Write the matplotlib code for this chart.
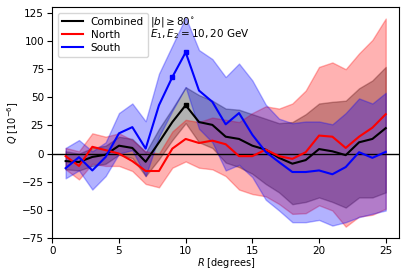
import numpy as np
import matplotlib
matplotlib.use("Agg")
import matplotlib.pyplot as plt

R = list(range(1, 26))

comb = [-6.7, -7.5, -3, -1, 7, 5, -7.3, 10, 28, 43, 28, 25.5, 15, 13, 7, 3.5, -3.8, -9, -5.8, 4, 2, -1.4, 10, 13, 22.6]
comb_hi = [2, 0, 5, 7, 15, 13, 1, 22, 40, 59, 52, 47, 40, 39, 35, 31, 27, 28, 35, 44.5, 46, 47, 58, 65, 77]
comb_lo = [-14, -15, -11, -9, -1, -4, -20, -5, 12, 27, 10, 5, -8, -12, -18, -27, -34.5, -45, -43, -39, -43, -48, -39, -39, -34.5]

north = [-2.3, -11, 6, 3, 0, -6.7, -15.5, -15.5, 4.4, 13, 9.4, 11.5, 8.3, -2.3, -2.3, 3.5, -2.3, -4.7, 1.2, 16, 15, 5, 15, 23, 35]
north_hi = [5, 2, 18, 15, 18, 12, 2, 0, 19.6, 30, 28, 32, 30, 28, 36, 42, 40, 44.5, 56, 77, 81, 75, 89, 101, 120]
north_lo = [-14, -23, -9, -11, -11, -15.5, -27, -30, -12.6, -7, -12.6, -14, -20, -32, -36, -38, -44.8, -53.6, -53, -46, -50.6, -65, -56, -54.4, -49]

south = [-13, -3.2, -15, -3, 18, 23.5, 4.4, 43, 68, 90, 56, 46, 26, 36, 16.7, 1.5, -7.6, -16.4, -16.4, -15, -18.4, -12, 1.2, -3.8, 1.5]
south_hi = [5, 12, 2, 10, 36, 44.5, 28.7, 71, 96, 121, 92, 84, 68, 80, 65, 43.6, 31, 27, 28.5, 28.5, 26, 36, 49, 44.5, 54]
south_lo = [-22, -15, -32, -20, 0, 3, -20, 15, 38, 59, 22, 10, -15, -10, -21, -41, -50.6, -61, -61, -59, -64, -61, -56.5, -53.5, -50.6]

comb_mark_R = [10]
comb_mark_Q = [43]
south_mark_R = [9, 10]
south_mark_Q = [68, 90]

fs = 7.5
fig = plt.figure(figsize=(4.07, 2.71), dpi=100)
ax = fig.add_axes([0.1285, 0.122, 0.852, 0.851])

ax.fill_between(R, comb_lo, comb_hi, color='black', alpha=0.3)
ax.fill_between(R, north_lo, north_hi, color='red', alpha=0.3)
ax.fill_between(R, south_lo, south_hi, color='blue', alpha=0.3)

ax.axhline(0, color='black', lw=1.0)

ax.plot(R, comb, color='black', lw=1.5, label='Combined')
ax.plot(R, north, color='red', lw=1.5, label='North')
ax.plot(R, south, color='blue', lw=1.5, label='South')
ax.plot(comb_mark_R, comb_mark_Q, 's', color='black', ms=3.5)
ax.plot(south_mark_R, south_mark_Q, 's', color='blue', ms=3.5)

ax.set_xlim(0, 26)
ax.set_ylim(-75, 130)
ax.set_xticks([0, 5, 10, 15, 20, 25])
ax.set_yticks([-75, -50, -25, 0, 25, 50, 75, 100, 125])
ax.tick_params(labelsize=fs, pad=2.5)
ax.set_xlabel(r'$R$ [degrees]', fontsize=7, labelpad=0)
ax.set_ylabel(r'$Q$ [$10^{-6}$]', fontsize=7, labelpad=1)

ax.legend(loc='upper left', fontsize=fs, handlelength=2.0, borderpad=0.4, labelspacing=0.3)
ax.text(7.35, 117, r'$|b| \geq 80^{\circ}$', fontsize=fs, va='center')
ax.text(7.35, 106, r'$E_1, E_2 = 10, 20$ GeV', fontsize=fs, va='center')

fig.savefig('out.png', dpi=100)
